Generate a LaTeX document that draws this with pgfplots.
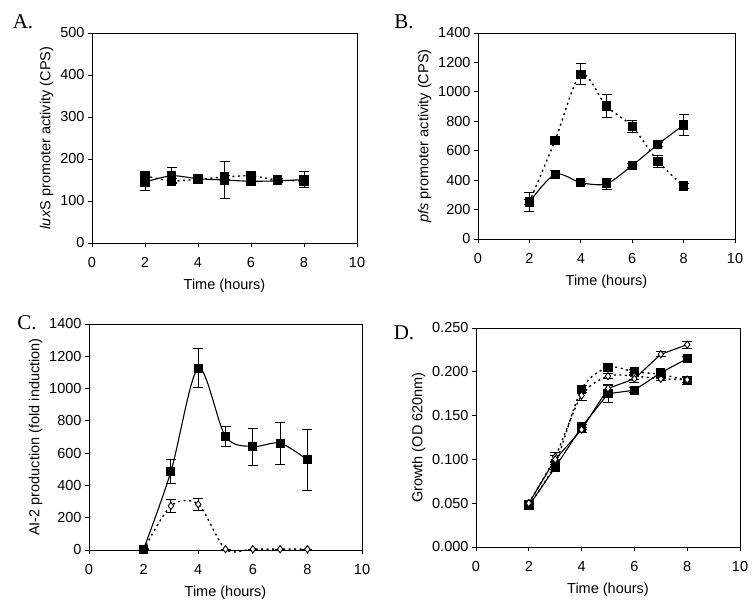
\documentclass[border=0pt]{standalone}
\usepackage{fontspec}
\setmainfont{Liberation Sans}
\newfontfamily\timesfont{Liberation Serif}
\usepackage{pgfplots}
\pgfplotsset{compat=1.18}

\pgfplotsset{
  panel/.style={
    scale only axis, anchor=south west,
    xmin=0, xmax=10, xtick={0,2,...,10},
    tick align=outside, tick pos=left,
    major tick length=4pt,
    axis line style={line width=0.9pt},
    every tick/.style={black, line width=0.8pt},
    /pgf/number format/assume math mode=true,
    /pgf/number format/1000 sep={},
    tick label style={font=\fontsize{14.5}{16}\selectfont},
    xticklabel style={yshift=-7pt},
    label style={font=\fontsize{14.5}{16}\selectfont},
    xlabel={Time (hours)},
    xlabel style={yshift=-4pt},
    clip=false,
  },
  sol/.style={black, line width=1.1pt, solid, mark=square*, mark size=4pt,
    mark options={solid, fill=black}},
  dot/.style={black, line width=1.4pt, dash pattern=on 2pt off 3.5pt, mark=square*,
    mark size=4pt, mark options={solid, fill=black}},
  opn/.style={mark=diamond*, mark size=3.6pt, mark options={solid, fill=white, line width=0.9pt}},
  eb/.style={error bars/y dir=both, error bars/y explicit,
    error bars/error bar style={line width=0.9pt, solid},
    error bars/error mark options={rotate=90, mark size=5pt, line width=0.9pt, solid}},
}

\begin{document}
\begin{tikzpicture}[x=1pt,y=1pt]
\path[use as bounding box] (0pt,0pt) rectangle (755pt,600pt);

% A
\begin{axis}[panel, at={(92pt,357pt)}, width=265pt, height=210pt,
  ymin=0, ymax=500, ytick={0,100,...,500},
  ylabel={\textit{lux}S promoter activity (CPS)}]
\addplot[dot, smooth, tension=0.5, eb] coordinates {(2,160) +- (0,5) (3,148) +- (0,5) (4,152) +- (0,4) (5,157) +- (0,5) (6,160) +- (0,5) (7,150) +- (0,4) (8,148) +- (0,5)};
\addplot[sol, smooth, tension=0.5, eb] coordinates {(2,145) +- (0,21) (3,160) +- (0,19) (4,153) +- (0,4) (5,150) +- (0,43) (6,147) +- (0,8) (7,148) +- (0,5) (8,151) +- (0,19)};
\end{axis}

% B
\begin{axis}[panel, at={(478pt,361pt)}, width=257pt, height=206pt,
  ymin=0, ymax=1400, ytick={0,200,...,1400},
  ylabel={\textit{pfs} promoter activity (CPS)}]
\addplot[dot, smooth, tension=0.5, eb] coordinates {(2,251) +- (0,15) (3,670) +- (0,15) (4,1119) +- (0,72) (5,903) +- (0,80) (6,765) +- (0,40) (7,528) +- (0,40) (8,360) +- (0,15)};
\addplot[sol, smooth, tension=0.5, eb] coordinates {(2,251) +- (0,62) (3,440) +- (0,28) (4,383) +- (0,10) (5,376) +- (0,38) (6,500) +- (0,15) (7,643) +- (0,15) (8,775) +- (0,70)};
\end{axis}

% C
\begin{axis}[panel, at={(89pt,50pt)}, width=273pt, height=226pt,
  ymin=0, ymax=1400, ytick={0,200,...,1400},
  ylabel={AI-2 production (fold induction)}]
\addplot[dot, opn, smooth, tension=0.5, eb] coordinates {(2,0) +- (0,0) (3,273) +- (0,40) (4,283) +- (0,35) (5,5) +- (0,0) (6,5) +- (0,0) (7,5) +- (0,0) (8,5) +- (0,0)};
\addplot[sol, smooth, tension=0.5, eb] coordinates {(2,5) +- (0,4) (3,486) +- (0,72) (4,1127) +- (0,120) (5,703) +- (0,62) (6,641) +- (0,115) (7,662) +- (0,130) (8,558) +- (0,190)};
\end{axis}

% D
\begin{axis}[panel, at={(476pt,53pt)}, width=264pt, height=219pt,
  ymin=0, ymax=0.25, ytick={0,0.05,...,0.25},
  yticklabel style={/pgf/number format/.cd, fixed, fixed zerofill, precision=3},
  ylabel={Growth (OD 620nm)}]
\addplot[dot, smooth, tension=0.5, eb] coordinates {(2,0.048) +- (0,0.002) (3,0.095) +- (0,0.003) (4,0.180) +- (0,0.004) (5,0.205) +- (0,0.003) (6,0.200) +- (0,0.003) (7,0.197) +- (0,0.002) (8,0.190) +- (0,0.005)};
\addplot[dot, opn, smooth, tension=0.5, eb] coordinates {(2,0.050) +- (0,0.002) (3,0.103) +- (0,0.005) (4,0.173) +- (0,0.006) (5,0.195) +- (0,0.003) (6,0.195) +- (0,0.004) (7,0.192) +- (0,0.002) (8,0.191) +- (0,0.003)};
\addplot[sol, eb] coordinates {(2,0.047) +- (0,0.002) (3,0.091) +- (0,0.003) (4,0.137) +- (0,0.003) (5,0.175) +- (0,0.010) (6,0.179) +- (0,0.003) (7,0.199) +- (0,0.003) (8,0.215) +- (0,0.003)};
\addplot[sol, opn, eb] coordinates {(2,0.050) +- (0,0.002) (3,0.100) +- (0,0.004) (4,0.134) +- (0,0.003) (5,0.181) +- (0,0.003) (6,0.192) +- (0,0.004) (7,0.220) +- (0,0.003) (8,0.231) +- (0,0.004)};
\end{axis}

\node[font=\timesfont\fontsize{21}{23}\selectfont] at (23pt,578pt) {A.};
\node[font=\timesfont\fontsize{21}{23}\selectfont] at (404pt,578pt) {B.};
\node[font=\timesfont\fontsize{21}{23}\selectfont] at (27pt,277pt) {C.};
\node[font=\timesfont\fontsize{21}{23}\selectfont] at (404pt,267pt) {D.};
\end{tikzpicture}
\end{document}
